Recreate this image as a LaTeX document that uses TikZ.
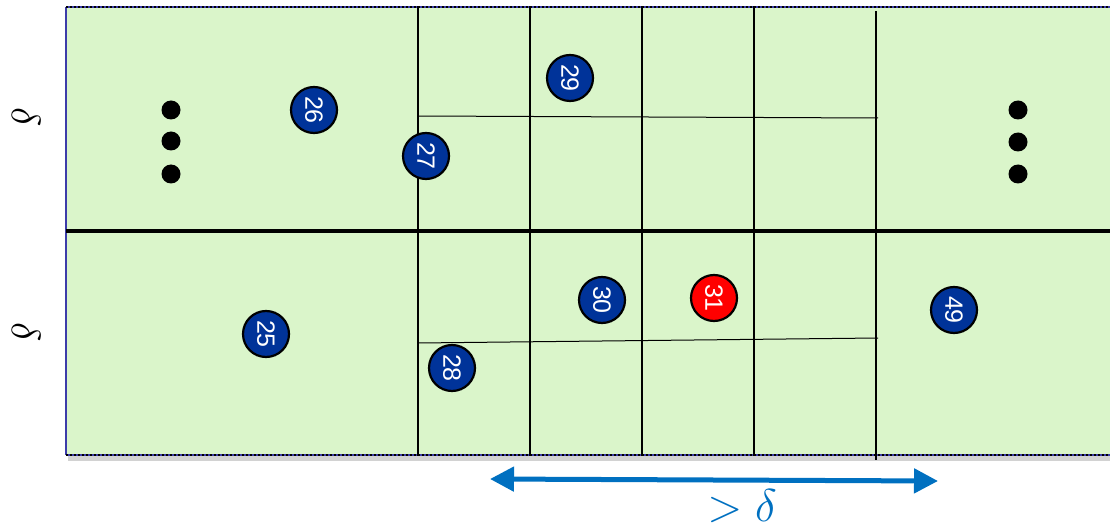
\documentclass[tikz,border=0pt]{standalone}
\usepackage{fix-cm}
\usepackage{graphicx}
\usepackage{fontspec}
\setsansfont{Liberation Sans}
\usetikzlibrary{arrows.meta}
\definecolor{cellgreen}{RGB}{218,245,202}
\definecolor{ballblue}{RGB}{0,51,153}
\definecolor{arrowblue}{RGB}{0,112,192}
\definecolor{edgeblue}{RGB}{60,60,170}
\tikzset{
  ball/.style={circle,draw=black,line width=2.2pt,fill=ballblue,minimum size=46pt,inner sep=0pt,
    text=white,font=\sffamily\fontsize{25}{25}\selectfont,rotate=-90},
  redball/.style={ball,fill=red},
  dot/.style={circle,fill=black,minimum size=19pt,inner sep=0pt},
  grid/.style={line width=1.3pt,line cap=rect},
  thin/.style={line width=1pt},
  sidedelta/.style={inner sep=0pt,font=\fontsize{41}{41}\selectfont},
}
\begin{document}
\begin{tikzpicture}[x=1pt,y=-1pt]
\useasboundingbox (0,0) rectangle (1110,529);
% background box with shadow
\fill[black!35,opacity=0.5] (68,456) rectangle (1110,461);
\fill[cellgreen] (66,7) rectangle (1110,455);
\draw[edgeblue,line width=1.3pt] (66,7) -- (66,455);
\draw[edgeblue,line width=1.6pt] (66,7) -- (1110,7);
\draw[black,line width=1.6pt,dash pattern=on 2pt off 2pt] (66,7) -- (1110,7);
\draw[edgeblue,line width=1.6pt] (66,455) -- (1110,455);
\draw[black,line width=1.6pt,dash pattern=on 2pt off 2pt] (66,455) -- (1110,455);
% middle thick line
\draw[line width=4pt] (66,231) -- (1110,231);
% vertical grid lines
\draw[grid] (418,7) -- (418,455);
\draw[grid] (530,7) -- (530,455);
\draw[grid] (642,7) -- (642,455);
\draw[grid] (754,7) -- (754,455);
\draw[grid] (876,12) -- (876,459);
% thin horizontal lines
\draw[thin] (418,116) -- (878,118);
\draw[thin] (418,343) -- (878,338);
% dots
\node[dot] (l1) at (171,110) {};
\node[dot] (l2) at (171,141) {};
\node[dot] (l3) at (171,174) {};
\node[dot] (r1) at (1018,110) {};
\node[dot] (r2) at (1018,142) {};
\node[dot] (r3) at (1018,174) {};
% balls
\node[ball] (b26) at (314,110) {26};
\node[ball] (b27) at (426,156) {27};
\node[ball] (b29) at (570,78) {29};
\node[ball] (b25) at (266,334) {25};
\node[ball] (b28) at (452,368) {28};
\node[ball] (b30) at (602,300) {30};
\node[redball] (b31) at (714,298) {31};
\node[ball] (b49) at (954,310) {49};
% delta labels
\node[sidedelta] (d1) at (26,117) {\rotatebox{-90}{$\delta$}};
\node[sidedelta] (d2) at (26,332) {\rotatebox{-90}{$\delta$}};
% arrow
\coordinate (aL) at (490,479);
\coordinate (aR) at (938,481);
\draw[arrowblue,line width=5pt,{Triangle[length=24pt,width=24pt]}-{Triangle[length=24pt,width=24pt]}] (aL) -- (aR);
\node[text=arrowblue,font=\fontsize{46}{46}\selectfont] (gt) at (742,506) {$>\delta$};
\end{tikzpicture}
\end{document}
